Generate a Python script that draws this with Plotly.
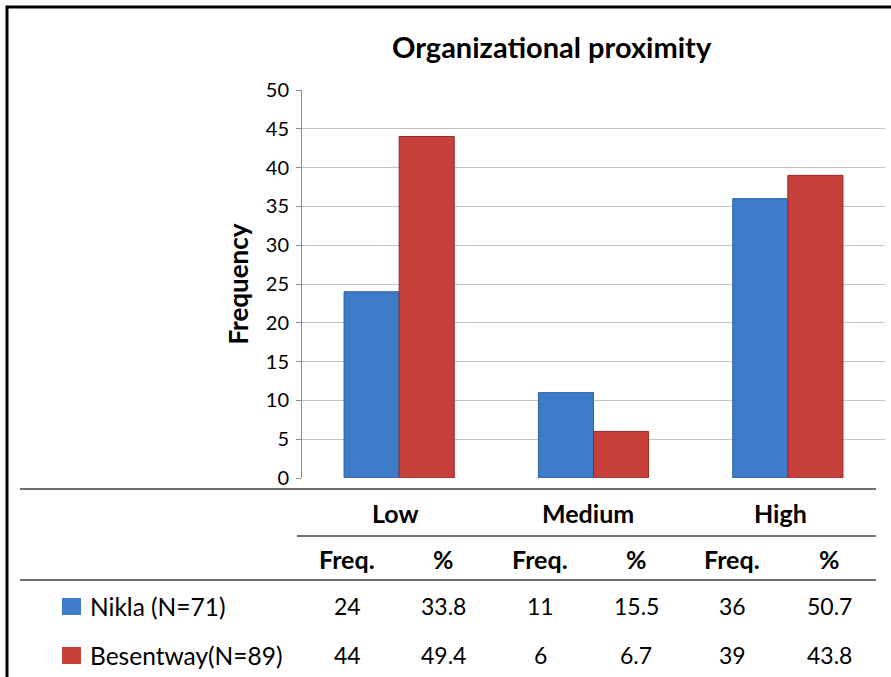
import plotly.graph_objects as go

# ---- data ----
categories = ["Low", "Medium", "High"]
groups = ["Nikla", "Besentway"]
group_n = [71, 89]
nikla_freq = [24, 11, 36]
besentway_freq = [44, 6, 39]
nikla_pct = [33.8, 15.5, 50.7]
besentway_pct = [49.4, 6.7, 43.8]
y_ticks = [0, 5, 10, 15, 20, 25, 30, 35, 40, 45, 50]

W, H = 891, 677
FONT = "Lato, Carlito, 'DejaVu Sans Condensed', sans-serif"
BLUE = "#3E7BC8"
RED = "#C63F3B"


def fx(px):
    return px / W


def fy(py):
    return 1 - py / H


def text_at(px, py, text, size=22, xanchor="center"):
    return dict(x=fx(px), y=fy(py), xref="paper", yref="paper", text=text,
                showarrow=False, xanchor=xanchor, yanchor="middle",
                font=dict(size=size, family=FONT, color="black"))


fig = go.Figure()
fig.add_trace(go.Bar(
    x=categories, y=nikla_freq, name=f"{groups[0]} (N={group_n[0]})",
    marker=dict(color=BLUE, line=dict(color="#2F5F9C", width=1)),
))
fig.add_trace(go.Bar(
    x=categories, y=besentway_freq, name=f"{groups[1]} (N={group_n[1]})",
    marker=dict(color=RED, line=dict(color="#8F2B28", width=1)),
))

# plot area spans x 302..885 px, y 90..478 px
fig.update_layout(
    width=W, height=H,
    margin=dict(l=0, r=0, t=0, b=0, autoexpand=False),
    paper_bgcolor="white", plot_bgcolor="white",
    showlegend=False,
    barmode="group", bargap=0.433, bargroupgap=0,
    font=dict(family=FONT, color="black"),
    xaxis=dict(domain=[fx(302), fx(885)], showticklabels=False, ticks="",
               showline=False, showgrid=False, zeroline=False, automargin=False),
    yaxis=dict(domain=[fy(478), fy(90)], range=[0, 50], tickvals=y_ticks,
               ticks="outside", ticklen=5, tickcolor="#8c8c8c",
               showline=True, linecolor="#8c8c8c", linewidth=1,
               gridcolor="#c4c4c4", gridwidth=1, zeroline=False, automargin=False,
               tickfont=dict(size=20, family=FONT), ticklabelstandoff=3,
               title=dict(text="<b>Frequency</b>", font=dict(size=26, family=FONT),
                          standoff=9)),
)

annotations = [text_at(552, 47, "<b>Organizational proximity</b>", size=29)]
shapes = []

# data table beneath the chart
col_freq_x = [347, 540, 732]
col_pct_x = [443, 636, 829]
head_x = [395, 588, 780]
for cx, cat in zip(head_x, categories):
    annotations.append(text_at(cx, 513, f"<b>{cat}</b>", size=25))
for fxp, pxp in zip(col_freq_x, col_pct_x):
    annotations.append(text_at(fxp, 559, "<b>Freq.</b>", size=25))
    annotations.append(text_at(pxp, 559, "<b>%</b>", size=25))

rows = [
    (f"{groups[0]} (N={group_n[0]})", nikla_freq, nikla_pct, BLUE, 606),
    (f"{groups[1]}(N={group_n[1]})", besentway_freq, besentway_pct, RED, 655),
]
for label, freqs, pcts, color, ry in rows:
    shapes.append(dict(type="rect", xref="paper", yref="paper",
                       x0=fx(62), x1=fx(81), y0=fy(ry + 9), y1=fy(ry - 8),
                       fillcolor=color, line=dict(width=0)))
    annotations.append(text_at(88, ry, label, size=24.5, xanchor="left"))
    for cx, v in zip(col_freq_x, freqs):
        annotations.append(text_at(cx, ry, str(v), size=23))
    for cx, v in zip(col_pct_x, pcts):
        annotations.append(text_at(cx, ry, f"{v:.1f}", size=23))

# table rules
for x0, x1, py in [(20, 876, 489), (297, 876, 536), (20, 876, 580)]:
    shapes.append(dict(type="line", xref="paper", yref="paper",
                       x0=fx(x0), x1=fx(x1), y0=fy(py), y1=fy(py),
                       line=dict(color="#404040", width=1.5)))

# outer frame
shapes.append(dict(type="rect", xref="paper", yref="paper",
                   x0=fx(7), x1=fx(895), y0=fy(690), y1=fy(7),
                   line=dict(color="black", width=3), fillcolor="rgba(0,0,0,0)"))

fig.update_layout(annotations=annotations, shapes=shapes)
fig.write_html("out.html", post_script="document.body.style.margin='0';")
